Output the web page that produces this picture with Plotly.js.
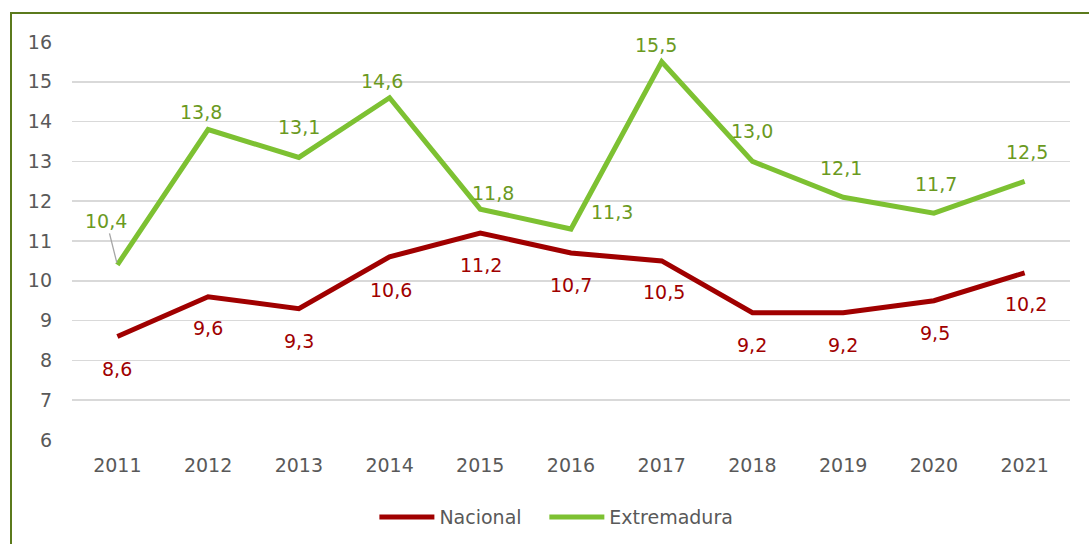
<!DOCTYPE html>
<html>
<head>
<meta charset="utf-8">
<script src="https://cdn.plot.ly/plotly-3.0.1.min.js"></script>
<style>
html,body{margin:0;padding:0;background:#fff;}
#wrap{position:relative;width:1089px;height:544px;overflow:hidden;}
#chart{position:absolute;left:0;top:0;width:1089px;height:544px;}
#frame{position:absolute;left:10px;top:12px;width:1200px;height:700px;border:2px solid #5b7a1c;pointer-events:none;}
</style>
</head>
<body>
<div id="wrap"><div id="chart"></div><div id="frame"></div></div>
<script>
const years = [2011, 2012, 2013, 2014, 2015, 2016, 2017, 2018, 2019, 2020, 2021];
const nacional = [8.6, 9.6, 9.3, 10.6, 11.2, 10.7, 10.5, 9.2, 9.2, 9.5, 10.2];
const extremadura = [10.4, 13.8, 13.1, 14.6, 11.8, 11.3, 15.5, 13.0, 12.1, 11.7, 12.5];
const yTicks = [6,7,8,9,10,11,12,13,14,15,16];

// label placement (pixel offsets of each label from its point)
const nacLabelDx = [0, 0, 0, 1, 1, 0, 2, 0, 0, 1, 1];
const nacLabelDy = [-32, -31, -32, -33, -32, -32, -31, -32, -32, -32, -31];
const extLabelDx = [-11, -7, 0, -8, 13, 41, -6, 0, -2, 2, 2];
const extLabelDy = [44, 18, 30, 17, 16, 17, 17, 30, 29, 29, 29];

const fmt = v => v.toFixed(1).replace('.', ',');
const FONT = 'DejaVu Sans, Verdana, sans-serif';
const FS = 19;
const RED = '#a00000';
const GREEN = '#7dc132';
const GREEN_TXT = '#6b9a1f';

const traces = [
  {
    x: years, y: nacional, name: 'Nacional', type: 'scatter', mode: 'lines',
    line: {color: RED, width: 5}, legend: 'legend'
  },
  {
    x: years, y: extremadura, name: 'Extremadura', type: 'scatter', mode: 'lines',
    line: {color: GREEN, width: 5}, legend: 'legend2'
  }
];

const annotations = [];
years.forEach((yr, i) => {
  annotations.push({
    x: yr, y: nacional[i], xref: 'x', yref: 'y', text: fmt(nacional[i]),
    showarrow: false, xanchor: 'center', yanchor: 'middle',
    xshift: nacLabelDx[i], yshift: nacLabelDy[i],
    font: {family: FONT, size: FS, color: RED}
  });
  if (i === 0) {
    annotations.push({
      x: yr, y: extremadura[i], xref: 'x', yref: 'y', text: fmt(extremadura[i]),
      showarrow: true, arrowhead: 0, arrowwidth: 1.3, arrowcolor: '#a6a6a6',
      ax: extLabelDx[i], ay: -extLabelDy[i], standoff: 2,
      font: {family: FONT, size: FS, color: GREEN_TXT}
    });
  } else {
    annotations.push({
      x: yr, y: extremadura[i], xref: 'x', yref: 'y', text: fmt(extremadura[i]),
      showarrow: false, xanchor: 'center', yanchor: 'middle',
      xshift: extLabelDx[i], yshift: extLabelDy[i],
      font: {family: FONT, size: FS, color: GREEN_TXT}
    });
  }
});

const legendBase = {orientation: 'h', xanchor: 'left', y: -0.194, yanchor: 'middle',
  font: {family: FONT, size: FS, color: '#595959'}, itemwidth: 55, bgcolor: 'rgba(0,0,0,0)'};

const layout = {
  width: 1089, height: 544,
  margin: {l: 72, r: 19, t: 42, b: 104, autoexpand: false},
  paper_bgcolor: 'rgba(0,0,0,0)', plot_bgcolor: '#fff',
  font: {family: FONT, size: FS, color: '#595959'},
  showlegend: true,
  legend: Object.assign({}, legendBase, {x: 0.303}),
  legend2: Object.assign({}, legendBase, {x: 0.4733}),
  xaxis: {type: 'linear', range: [2010.5, 2021.5], tickvals: years, ticktext: years.map(String),
          showgrid: false, zeroline: false, showline: false, ticks: '',
          ticklabelstandoff: 12, tickfont: {family: FONT, size: FS, color: '#595959'}},
  yaxis: {range: [6, 16], tickvals: yTicks, ticktext: yTicks.map(String), showgrid: true,
          gridcolor: '#d9d9d9', gridwidth: 1.6, zeroline: false, showline: false, ticks: '',
          ticklabelstandoff: 19, tickfont: {family: FONT, size: FS, color: '#595959'}},
  annotations: annotations
};

Plotly.newPlot('chart', traces, layout, {displayModeBar: false, staticPlot: true});
</script>
</body>
</html>
